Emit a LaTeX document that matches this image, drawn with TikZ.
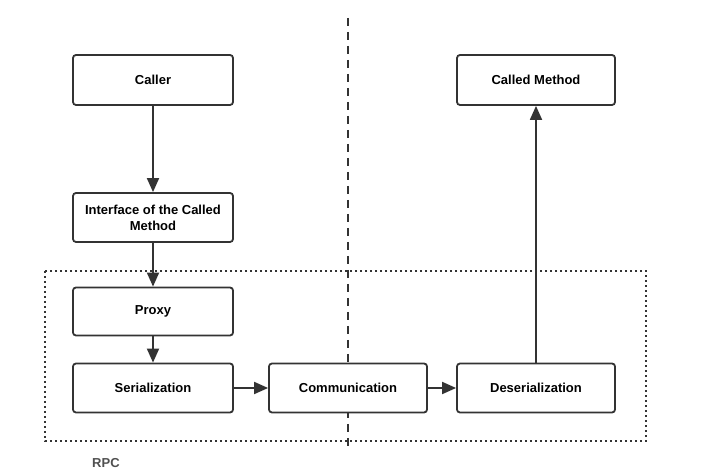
\documentclass[tikz,border=0pt]{standalone}
\usepackage{fontspec}
\setmainfont{Liberation Sans}
\usetikzlibrary{arrows.meta}
\definecolor{ln}{HTML}{333333}
\definecolor{rpcgray}{HTML}{505050}
\tikzset{
  box/.style={draw=ln, line width=1.8pt, rounded corners=3pt, fill=white,
    minimum width=160pt, minimum height=50pt, inner sep=2pt, align=center,
    font=\fontsize{13}{16}\selectfont\bfseries, text=black},
  boxr/.style={box, minimum width=158pt},
  arr/.style={draw=ln, line width=1.8pt, -{Triangle[length=14pt,width=12pt]}},
  dotbox/.style={draw=ln, line width=2pt, dash pattern=on 2pt off 3pt},
  divider/.style={draw=ln, line width=2pt, dash pattern=on 8pt off 6pt}
}
\begin{document}
\begin{tikzpicture}[x=1pt,y=-1pt]
\useasboundingbox (0,0) rectangle (718,470);
\draw[dotbox] (45,271) rectangle (646,441);
\draw[divider] (348,18) -- (348,446);
\node[box] (caller) at (153,80) {Caller};
\node[box, minimum height=49pt] (iface) at (153,217.5) {Interface of the Called\\Method};
\node[box, minimum height=48pt] (proxy) at (153,311.5) {Proxy};
\node[box, minimum height=49pt] (ser) at (153,388) {Serialization};
\node[boxr, minimum height=49pt] (comm) at (348,388) {Communication};
\node[boxr, minimum height=49pt] (deser) at (536,388) {Deserialization};
\node[boxr] (called) at (536,80) {Called Method};
\node[font=\fontsize{13}{16}\selectfont\bfseries, text=rpcgray, anchor=west, inner sep=0pt] (rpc) at (92,463) {RPC};
\draw[arr] (caller) -- (iface);
\draw[arr] (iface) -- (proxy);
\draw[arr] (proxy) -- (ser);
\draw[arr] (ser) -- (comm);
\draw[arr] (comm) -- (deser);
\draw[arr] (deser) -- (called);
\end{tikzpicture}
\end{document}
